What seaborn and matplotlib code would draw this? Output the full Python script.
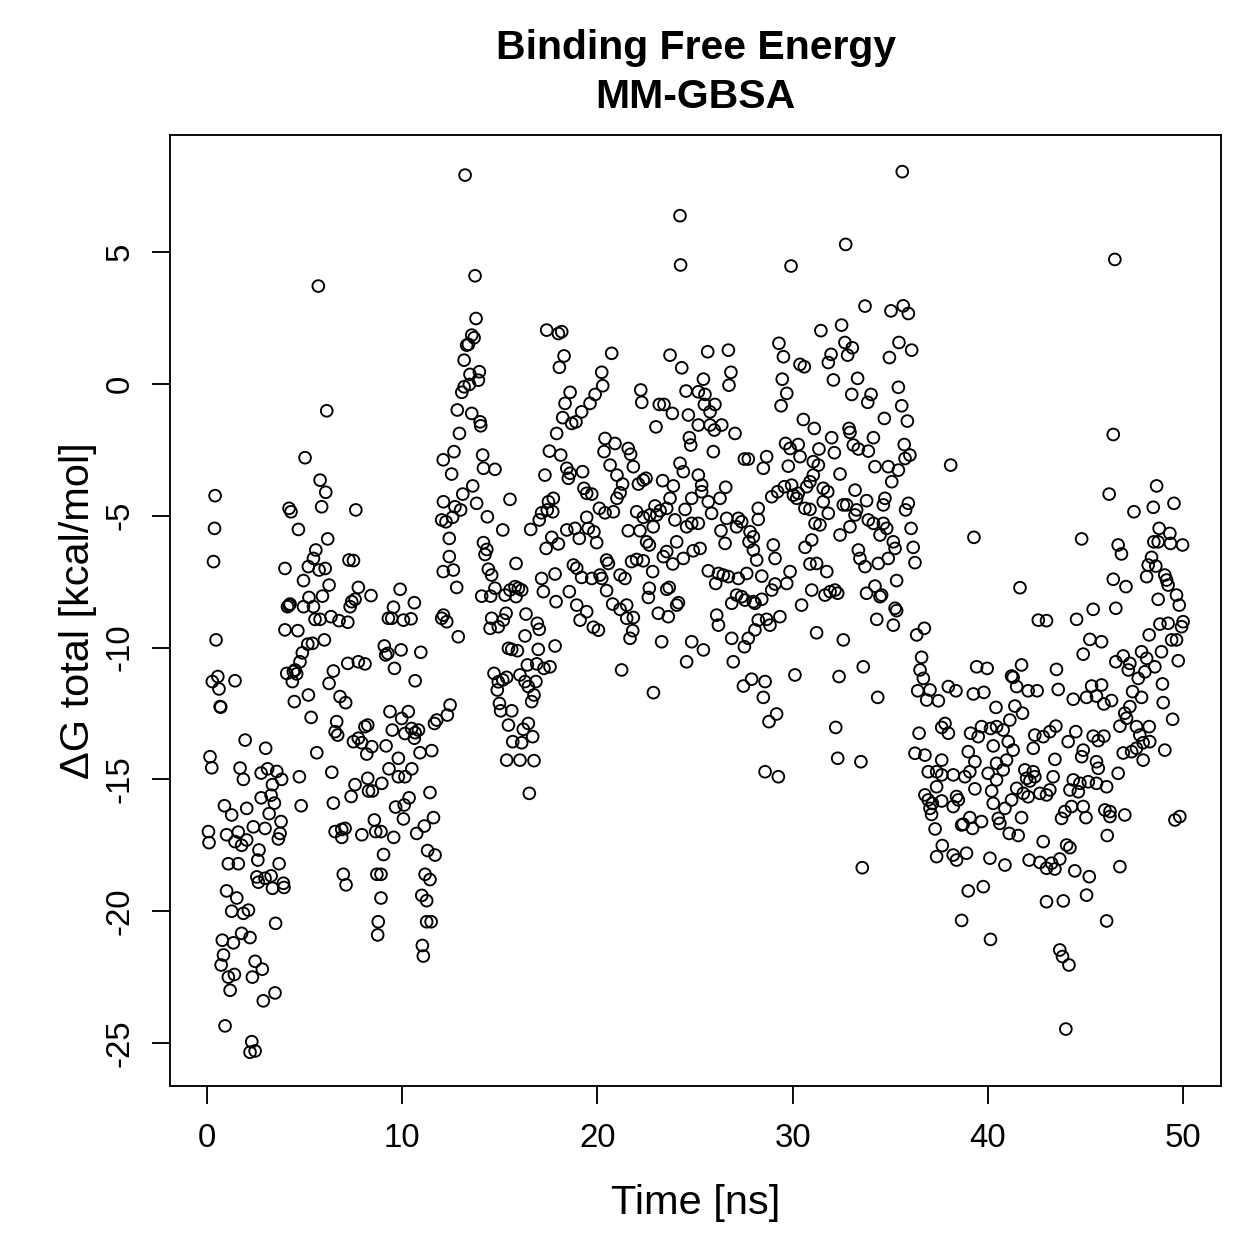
import pandas as pd
import matplotlib
matplotlib.use("Agg")
import matplotlib.pyplot as plt
import seaborn as sns

# (time [ns], dG total [kcal/mol]), one list per stretch
phase_0_12 = [
    (0.07, -16.98), (0.1, -17.4), (0.15, -14.14), (0.24, -14.56), (0.27, -11.29), (0.33, -6.74),
    (0.38, -5.48), (0.41, -4.24), (0.46, -9.71), (0.55, -11.1), (0.61, -11.57), (0.67, -12.24),
    (0.7, -12.26), (0.72, -22.04), (0.78, -21.1), (0.84, -21.66), (0.89, -16.0), (0.92, -24.35),
    (1.0, -17.1), (1.0, -19.23), (1.09, -18.2), (1.09, -22.5), (1.18, -23.0), (1.26, -16.35),
    (1.26, -20.0), (1.35, -21.2), (1.4, -22.4), (1.43, -17.36), (1.43, -11.26), (1.52, -19.5),
    (1.6, -17.0), (1.6, -18.2), (1.69, -14.57), (1.77, -17.5), (1.77, -20.84), (1.86, -15.0),
    (1.86, -20.08), (1.95, -13.51), (2.03, -16.1), (2.03, -17.3), (2.12, -19.96), (2.2, -21.0),
    (2.2, -25.35), (2.29, -24.95), (2.32, -22.5), (2.37, -16.8), (2.46, -21.9), (2.46, -25.3),
    (2.55, -18.7), (2.6, -18.06), (2.63, -18.9), (2.66, -17.68), (2.77, -14.76), (2.77, -15.7),
    (2.83, -22.2), (2.88, -23.4), (2.97, -16.86), (2.97, -18.75), (3.0, -13.82), (3.1, -14.6),
    (3.18, -16.3), (3.28, -15.6), (3.28, -18.66), (3.35, -15.2), (3.35, -19.13), (3.45, -15.9),
    (3.48, -23.1), (3.51, -20.46), (3.57, -14.7), (3.65, -17.26), (3.69, -18.2), (3.74, -17.05),
    (3.79, -16.6), (3.82, -15.0), (3.91, -18.94), (3.94, -19.1), (3.99, -7.0), (3.99, -9.33),
    (4.08, -10.98), (4.12, -8.45), (4.2, -4.72), (4.2, -8.4), (4.25, -8.35), (4.3, -4.85),
    (4.37, -11.29), (4.42, -10.91), (4.47, -12.05), (4.51, -10.85), (4.59, -11.0), (4.65, -9.36),
    (4.68, -5.52), (4.73, -14.9), (4.76, -10.54), (4.82, -16.0), (4.88, -10.2), (4.94, -7.46),
    (4.94, -8.45), (5.02, -2.8), (5.16, -9.87), (5.19, -6.93), (5.19, -11.8), (5.22, -8.1),
    (5.33, -12.65), (5.4, -9.84), (5.45, -6.62), (5.45, -8.45), (5.53, -8.93), (5.57, -6.3),
    (5.62, -13.99), (5.7, 3.71), (5.74, -7.06), (5.79, -3.65), (5.79, -8.93), (5.87, -4.66),
    (5.91, -8.05), (6.01, -9.71), (6.05, -7.0), (6.08, -4.11), (6.13, -1.02), (6.18, -5.88),
    (6.25, -7.63), (6.25, -11.36), (6.35, -8.83), (6.39, -14.73), (6.47, -10.89), (6.47, -15.9),
    (6.56, -13.19), (6.56, -16.98), (6.64, -12.81), (6.69, -13.32), (6.76, -8.98), (6.81, -11.86),
    (6.9, -16.9), (6.9, -17.2), (6.98, -18.6), (7.07, -16.86), (7.1, -12.09), (7.12, -19.0),
    (7.21, -9.04), (7.21, -10.6), (7.27, -6.68), (7.33, -8.45), (7.38, -15.65), (7.41, -8.26),
    (7.5, -6.7), (7.5, -13.57), (7.58, -8.17), (7.58, -15.2), (7.62, -4.78), (7.75, -7.72),
    (7.75, -10.54), (7.75, -13.44), (7.92, -13.61), (7.93, -17.1), (8.09, -10.62), (8.09, -13.0),
    (8.18, -14.04), (8.23, -12.94), (8.23, -14.96), (8.27, -15.44), (8.4, -8.03), (8.44, -13.76),
    (8.47, -15.44), (8.57, -16.54), (8.64, -16.98), (8.7, -18.6), (8.74, -20.9), (8.77, -20.4),
    (8.91, -16.98), (8.91, -18.6), (8.91, -19.5), (8.95, -15.15), (9.04, -17.85), (9.08, -9.94),
    (9.15, -10.28), (9.17, -13.73), (9.26, -10.22), (9.29, -8.89), (9.32, -14.6), (9.37, -12.43),
    (9.46, -8.89), (9.49, -13.13), (9.55, -8.47), (9.56, -17.2), (9.6, -10.79), (9.66, -16.05),
    (9.8, -14.2), (9.8, -14.9), (9.89, -7.79), (9.94, -10.09), (9.97, -12.69), (10.06, -8.96),
    (10.06, -16.5), (10.1, -15.97), (10.14, -13.26), (10.14, -14.9), (10.31, -12.43), (10.35, -15.7),
    (10.45, -8.91), (10.48, -13.07), (10.49, -14.6), (10.62, -8.3), (10.62, -13.44), (10.66, -11.26),
    (10.66, -13.23), (10.74, -17.05), (10.83, -13.13), (10.91, -13.99), (10.95, -10.18), (11.0, -19.4),
    (11.03, -21.3), (11.08, -21.7), (11.13, -16.77), (11.17, -18.6), (11.25, -19.6), (11.25, -20.4),
    (11.3, -17.7), (11.42, -15.5), (11.42, -18.8), (11.48, -20.4), (11.51, -13.91), (11.6, -16.45),
    (11.65, -12.88), (11.68, -17.87), (11.77, -12.75),
]

phase_12_25 = [
    (12.02, -5.16), (12.02, -8.89), (12.1, -2.88), (12.1, -7.12), (12.11, -4.47), (12.11, -8.77),
    (12.24, -5.23), (12.28, -9.02), (12.31, -12.56), (12.41, -5.86), (12.41, -6.55), (12.45, -12.18),
    (12.53, -3.42), (12.58, -5.06), (12.62, -7.06), (12.65, -2.57), (12.7, -4.66), (12.79, -7.72),
    (12.82, -0.99), (12.87, -9.59), (12.93, -1.88), (12.99, -4.78), (13.05, -0.32), (13.1, -4.18),
    (13.17, 0.9), (13.17, -0.11), (13.22, 7.92), (13.3, 1.47), (13.39, 1.5), (13.44, -0.02),
    (13.47, 0.36), (13.56, 1.85), (13.56, -1.12), (13.61, -3.87), (13.68, 1.75), (13.73, 4.1),
    (13.78, 2.48), (13.81, -4.53), (13.9, 0.14), (13.95, 0.46), (13.99, -1.44), (14.02, -1.59),
    (14.07, -8.05), (14.12, -2.7), (14.16, -3.2), (14.16, -6.02), (14.24, -6.47), (14.33, -6.28),
    (14.36, -5.04), (14.41, -7.03), (14.5, -9.27), (14.53, -8.05), (14.58, -7.25), (14.58, -8.89),
    (14.7, -10.98), (14.75, -3.24), (14.75, -7.75), (14.87, -11.61), (14.92, -9.21), (14.92, -11.3),
    (14.98, -12.12), (15.04, -12.4), (15.15, -5.54), (15.15, -11.23), (15.18, -8.96), (15.27, -8.01),
    (15.32, -8.7), (15.35, -11.13), (15.35, -14.27), (15.44, -10.03), (15.44, -12.94), (15.52, -4.38),
    (15.52, -7.82), (15.61, -10.07), (15.61, -12.4), (15.66, -13.57), (15.78, -7.69), (15.83, -6.81),
    (15.83, -8.07), (15.9, -10.12), (15.95, -7.75), (16.03, -11.04), (16.03, -14.27), (16.12, -7.82),
    (16.12, -13.61), (16.2, -13.1), (16.29, -9.56), (16.29, -11.29), (16.34, -8.73), (16.41, -10.66),
    (16.46, -11.48), (16.46, -12.88), (16.51, -15.53), (16.58, -5.52), (16.63, -12.05), (16.68, -13.38),
    (16.75, -11.8), (16.75, -14.29), (16.85, -11.29), (16.89, -10.62), (16.92, -9.08), (16.97, -10.07),
    (17.02, -5.16), (17.02, -9.31), (17.14, -4.89), (17.14, -7.38), (17.23, -7.88), (17.26, -10.79),
    (17.31, -3.46), (17.37, -6.24), (17.4, 2.04), (17.43, -4.78), (17.49, -4.47), (17.54, -2.55),
    (17.57, -10.73), (17.66, -5.82), (17.71, -4.85), (17.74, -4.34), (17.83, -7.21), (17.83, -9.94),
    (17.88, -8.26), (17.91, -1.88), (18.0, 1.91), (18.0, -6.07), (18.05, 0.63), (18.12, -2.7),
    (18.17, 1.98), (18.22, -1.28), (18.29, 1.06), (18.34, -0.74), (18.43, -3.2), (18.43, -5.54),
    (18.51, -3.58), (18.56, -7.88), (18.6, -0.32), (18.6, -3.39), (18.68, -1.5), (18.77, -6.87),
    (18.85, -5.48), (18.9, -1.44), (18.94, -6.99), (18.94, -8.39), (19.07, -5.86), (19.11, -8.96),
    (19.19, -1.06), (19.19, -7.34), (19.24, -3.33), (19.31, -3.96), (19.45, -4.15), (19.45, -5.06),
    (19.45, -8.64), (19.53, -5.48), (19.62, -0.74), (19.71, -4.18), (19.71, -7.38), (19.79, -9.23),
    (19.82, -5.61), (19.88, -0.4), (19.96, -6.02), (20.05, -9.34), (20.1, -4.72), (20.13, -7.25),
    (20.22, 0.44), (20.22, -7.38), (20.27, -0.07), (20.34, -2.57), (20.39, -2.07), (20.39, -4.89),
    (20.47, -6.68), (20.47, -7.84), (20.56, -6.81), (20.65, -3.08), (20.73, 1.16), (20.78, -8.35),
    (20.82, -4.85), (20.9, -2.26), (21.0, -3.46), (21.0, -4.34), (21.16, -4.13), (21.16, -7.25),
    (21.16, -8.55), (21.24, -10.85), (21.29, -3.8), (21.41, -7.38), (21.5, -8.39), (21.5, -8.89),
    (21.58, -2.45), (21.58, -5.57), (21.67, -9.65), (21.7, -2.67), (21.75, -6.74), (21.81, -9.36),
    (21.84, -3.14), (21.84, -8.86), (22.01, -4.85), (22.01, -6.66), (22.1, -3.8), (22.18, -5.57),
    (22.22, -0.23), (22.27, -0.7), (22.35, -3.65), (22.35, -5.06), (22.35, -6.71), (22.49, -3.58),
    (22.52, -5.99), (22.61, -8.1), (22.66, -6.11), (22.66, -7.75), (22.69, -4.97), (22.83, -7.12),
    (22.86, -5.42), (22.87, -11.71), (22.95, -4.63), (23.0, -1.63), (23.04, -4.97), (23.12, -8.7),
    (23.17, -0.78), (23.21, -4.81), (23.29, -9.78), (23.34, -3.67), (23.38, -6.55), (23.41, -0.78),
    (23.55, -4.72), (23.55, -6.36), (23.55, -7.79), (23.63, -8.83), (23.68, -7.72), (23.72, 1.09),
    (23.72, -4.34), (23.84, -1.12), (23.86, -6.83), (23.89, -3.87), (23.97, -5.16), (24.06, -5.99),
    (24.06, -8.39), (24.15, -8.3), (24.23, 6.38), (24.23, -3.01), (24.26, 4.51), (24.32, 0.61),
    (24.4, -3.33), (24.4, -6.62), (24.49, -4.76), (24.54, -0.27), (24.57, -5.42), (24.57, -10.54),
    (24.66, -1.18), (24.71, -2.04), (24.78, -2.32), (24.83, -4.34), (24.83, -5.29), (24.83, -9.78),
    (24.91, -6.33),
]

phase_25_38 = [
    (25.17, -0.3), (25.17, -1.56), (25.17, -3.46), (25.17, -5.29), (25.26, -6.24), (25.34, -3.84),
    (25.34, -4.09), (25.43, 0.18), (25.43, -10.09), (25.48, -0.78), (25.51, -0.4), (25.65, 1.22),
    (25.68, -4.47), (25.68, -7.09), (25.77, -1.06), (25.77, -1.56), (25.85, -4.91), (25.94, -2.57),
    (25.99, -1.75), (26.02, -0.78), (26.06, -7.57), (26.11, -8.77), (26.2, -7.19), (26.2, -9.15),
    (26.28, -4.34), (26.33, -5.57), (26.37, -1.56), (26.45, -7.25), (26.54, -6.05), (26.57, -3.92),
    (26.62, -5.1), (26.71, 1.28), (26.71, -7.31), (26.74, -0.05), (26.84, 0.44), (26.88, -8.32),
    (26.88, -9.65), (26.96, -10.54), (27.05, -1.88), (27.13, -5.42), (27.13, -8.01), (27.22, -5.1),
    (27.22, -7.38), (27.39, -5.23), (27.39, -8.07), (27.48, -11.46), (27.53, -2.85), (27.53, -9.97),
    (27.56, -8.2), (27.65, -7.19), (27.73, -2.85), (27.73, -9.65), (27.77, -5.99), (27.82, -5.61),
    (27.9, -11.2), (27.99, -5.8), (27.99, -6.3), (27.99, -8.26), (28.07, -8.32), (28.07, -9.33),
    (28.16, -6.68), (28.24, -4.72), (28.24, -5.14), (28.24, -8.96), (28.42, -7.29), (28.42, -8.17),
    (28.5, -3.2), (28.5, -11.89), (28.59, -11.29), (28.59, -14.71), (28.67, -2.76), (28.67, -8.93),
    (28.79, -12.81), (28.84, -9.15), (28.93, -4.28), (28.93, -7.82), (29.01, -6.11), (29.1, -6.62),
    (29.1, -7.59), (29.18, -12.52), (29.23, -4.09), (29.27, -14.9), (29.3, 1.54), (29.35, -8.83),
    (29.41, -0.83), (29.47, 0.18), (29.53, 1.03), (29.58, -3.9), (29.64, -2.26), (29.7, -0.36),
    (29.7, -7.57), (29.78, -3.12), (29.87, -2.45), (29.87, -7.12), (29.92, 4.47), (29.95, -3.84),
    (30.04, -4.22), (30.12, -11.04), (30.21, -4.34), (30.29, -2.3), (30.29, -4.15), (30.38, 0.74),
    (30.38, -2.76), (30.46, -8.39), (30.55, -1.35), (30.6, 0.65), (30.63, -4.72), (30.64, -6.2),
    (30.72, -3.9), (30.89, -3.71), (30.89, -4.76), (30.89, -6.83), (30.98, -5.92), (30.98, -7.82),
    (31.06, -2.95), (31.06, -3.46), (31.11, -1.69), (31.15, -5.29), (31.23, -6.81), (31.23, -9.44),
    (31.32, -3.08), (31.35, -2.47), (31.4, -5.35), (31.45, 2.02), (31.57, -3.96), (31.57, -4.47),
    (31.66, -8.01), (31.75, -7.12), (31.8, -4.09), (31.83, 0.81), (31.83, -4.91), (31.92, -7.88),
    (31.97, 1.12), (32.0, -2.04), (32.09, 0.15), (32.14, -2.61), (32.17, -7.82), (32.21, -13.03),
    (32.31, -7.94), (32.31, -14.2), (32.38, -11.1), (32.43, -3.42), (32.43, -5.73), (32.51, 2.23),
    (32.6, -4.59), (32.6, -9.71), (32.68, 1.57), (32.72, 5.29), (32.77, -4.59), (32.82, 1.09),
    (32.89, -1.69), (32.94, -1.84), (32.94, -5.42), (33.03, -0.4), (33.06, 1.37), (33.11, -2.32),
    (33.2, -4.03), (33.2, -4.97), (33.28, -4.78), (33.33, 0.21), (33.37, -2.47), (33.37, -6.3),
    (33.45, -6.62), (33.5, -14.33), (33.57, -18.35), (33.62, -10.73), (33.71, 2.95), (33.71, -6.93),
    (33.79, -4.43), (33.79, -7.94), (33.85, -0.7), (33.88, -2.55), (33.88, -5.16), (34.02, -0.4),
    (34.14, -2.04), (34.14, -5.29), (34.22, -3.14), (34.22, -7.67), (34.31, -8.93), (34.36, -11.89),
    (34.39, -6.81), (34.48, -5.73), (34.48, -8.07), (34.56, -8.01), (34.65, -4.59), (34.65, -5.29),
    (34.7, -1.31), (34.73, -4.34), (34.82, -5.48), (34.9, -3.14), (34.9, -6.62), (34.96, 1.0),
    (35.04, 2.77), (35.08, -3.71), (35.16, -5.99), (35.16, -9.15), (35.25, -6.24), (35.25, -8.51),
    (35.33, -7.46), (35.33, -8.6), (35.42, -0.13), (35.42, -3.27), (35.45, 1.57), (35.59, -0.83),
    (35.62, 8.05), (35.67, 2.96), (35.72, -2.3), (35.76, -2.83), (35.79, -4.78), (35.88, -1.41),
    (35.93, 2.67), (35.93, -4.53), (36.01, -2.7), (36.07, -5.48), (36.1, 1.28), (36.18, -6.2),
    (36.27, -6.78), (36.27, -14.01), (36.36, -9.52), (36.41, -11.64), (36.48, -13.25), (36.53, -10.85),
    (36.61, -10.37), (36.7, -11.17), (36.75, -9.27), (36.78, -14.08), (36.78, -15.59), (36.87, -11.99),
    (36.95, -14.71), (36.95, -15.78), (37.04, -11.61), (37.04, -16.1), (37.12, -16.33), (37.16, -15.91),
    (37.3, -16.88), (37.38, -14.71), (37.38, -15.28), (37.38, -17.93), (37.47, -12.02), (37.64, -13.03),
    (37.64, -14.27), (37.64, -14.83), (37.64, -15.82), (37.67, -17.51), (37.81, -12.88), (37.98, -11.48),
    (37.98, -13.25),
]

phase_38_50 = [
    (38.1, -3.08), (38.23, -14.83), (38.23, -16.03), (38.23, -17.87), (38.37, -11.64), (38.4, -15.65),
    (38.4, -18.06), (38.49, -15.78), (38.66, -16.73), (38.66, -20.35), (38.74, -16.7), (38.83, -14.9),
    (38.91, -17.8), (39.0, -13.95), (39.0, -19.23), (39.08, -14.71), (39.08, -16.45), (39.12, -13.25),
    (39.22, -16.86), (39.26, -11.76), (39.29, -5.82), (39.34, -14.33), (39.34, -15.36), (39.43, -10.73),
    (39.51, -13.38), (39.68, -13.0), (39.68, -16.6), (39.77, -19.07), (39.8, -11.7), (39.97, -10.79),
    (40.02, -14.77), (40.11, -17.99), (40.14, -13.07), (40.14, -21.07), (40.2, -15.44), (40.28, -13.73),
    (40.28, -15.91), (40.42, -12.27), (40.45, -13.0), (40.45, -14.39), (40.45, -15.02), (40.54, -16.48),
    (40.62, -16.67), (40.79, -13.13), (40.79, -14.64), (40.88, -16.1), (40.88, -18.25), (40.96, -14.27),
    (41.05, -13.57), (41.1, -17.05), (41.13, -12.75), (41.22, -11.08), (41.22, -15.78), (41.3, -11.13),
    (41.3, -13.89), (41.39, -12.22), (41.48, -11.48), (41.48, -15.34), (41.56, -17.13), (41.65, -7.73),
    (41.73, -10.66), (41.73, -16.45), (41.78, -12.49), (41.82, -15.53), (41.9, -14.64), (41.99, -14.96),
    (42.07, -11.64), (42.07, -15.66), (42.12, -18.06), (42.16, -15.06), (42.33, -13.82), (42.33, -14.71),
    (42.41, -13.32), (42.41, -14.9), (42.53, -11.64), (42.59, -8.96), (42.67, -15.53), (42.67, -18.15),
    (42.84, -13.38), (42.84, -17.36), (43.01, -8.98), (43.01, -15.59), (43.01, -18.37), (43.01, -19.64),
    (43.18, -13.19), (43.18, -15.4), (43.27, -18.18), (43.35, -14.9), (43.44, -14.24), (43.44, -18.4),
    (43.49, -12.98), (43.52, -10.83), (43.61, -11.59), (43.69, -18.02), (43.69, -21.47), (43.78, -16.48),
    (43.83, -21.72), (43.87, -19.61), (43.95, -16.22), (44.0, -24.47), (44.04, -17.49), (44.12, -13.57),
    (44.16, -22.04), (44.21, -15.4), (44.21, -17.59), (44.29, -16.03), (44.38, -11.96), (44.38, -15.02),
    (44.46, -18.47), (44.51, -13.19), (44.55, -8.93), (44.64, -15.47), (44.72, -15.15), (44.81, -5.88),
    (44.81, -14.14), (44.89, -10.25), (44.89, -13.89), (44.89, -16.03), (45.03, -16.45), (45.06, -11.89),
    (45.06, -19.39), (45.15, -15.09), (45.2, -18.69), (45.23, -9.69), (45.32, -11.46), (45.4, -8.55),
    (45.4, -13.36), (45.57, -11.84), (45.57, -14.33), (45.57, -15.15), (45.66, -13.53), (45.66, -14.58),
    (45.83, -9.78), (45.83, -11.42), (45.95, -12.14), (45.95, -13.36), (46.0, -16.16), (46.09, -15.28),
    (46.09, -20.37), (46.12, -17.13), (46.22, -4.18), (46.26, -16.22), (46.26, -16.41), (46.34, -12.01),
    (46.43, -1.92), (46.43, -7.41), (46.51, 4.72), (46.56, -8.51), (46.56, -10.54), (46.68, -6.11),
    (46.68, -14.77), (46.77, -12.98), (46.77, -18.31), (46.85, -6.45), (46.94, -10.32), (46.94, -14.0),
    (47.02, -12.49), (47.02, -16.35), (47.08, -7.69), (47.11, -12.68), (47.2, -10.85), (47.28, -10.6),
    (47.28, -12.24), (47.37, -13.95), (47.42, -11.67), (47.49, -4.85), (47.62, -13.0), (47.62, -13.82),
    (47.71, -11.17), (47.79, -13.32), (47.88, -10.16), (47.88, -11.89), (47.96, -13.61), (47.96, -14.27),
    (48.05, -10.92), (48.14, -7.31), (48.14, -10.41), (48.22, -6.87), (48.27, -9.52), (48.27, -13.0),
    (48.3, -13.57), (48.39, -6.58), (48.48, -4.68), (48.51, -5.99), (48.56, -10.73), (48.61, -6.91),
    (48.65, -3.87), (48.73, -5.99), (48.73, -8.17), (48.78, -5.48), (48.82, -9.11), (48.9, -10.16),
    (48.95, -11.38), (48.99, -12.09), (49.07, -7.25), (49.07, -13.89), (49.16, -7.44), (49.24, -7.63),
    (49.24, -9.08), (49.33, -5.67), (49.36, -6.05), (49.42, -9.71), (49.47, -12.72), (49.54, -4.53),
    (49.59, -16.54), (49.67, -8.01), (49.67, -9.71), (49.76, -10.5), (49.81, -8.39), (49.84, -16.41),
    (49.93, -9.21), (49.98, -6.11), (50.01, -9.02),
]

trace = pd.DataFrame(phase_0_12 + phase_12_25 + phase_25_38 + phase_38_50,
                     columns=["Time [ns]", "dG"])

sns.set_style("ticks")
plt.rcParams["font.family"] = ["Liberation Sans", "DejaVu Sans"]
plt.rcParams["axes.unicode_minus"] = False
plt.rcParams["text.color"] = "black"
plt.rcParams["axes.labelcolor"] = "black"
plt.rcParams["xtick.color"] = "black"
plt.rcParams["ytick.color"] = "black"

W = 1259
fig = plt.figure(figsize=(W / 180, W / 180), dpi=180)
ax = fig.add_axes([170 / W, 1 - 1086 / W, 1051 / W, 951 / W])

sns.scatterplot(data=trace, x="Time [ns]", y="dG", ax=ax, marker="o", s=22,
                facecolors="none", edgecolor="black", linewidth=0.75)

ax.set_xlim(-1.9, 51.95)
ax.set_ylim(-26.63, 9.44)
ax.set_xticks(range(0, 51, 10))
ax.set_yticks(range(-25, 6, 5))
ax.tick_params(direction="out", length=7.2, width=0.75, colors="black", labelsize=13.2)
ax.tick_params(axis="x", pad=7.5)
ax.tick_params(axis="y", pad=6.5, labelrotation=90)
for lbl in ax.get_yticklabels():
    lbl.set_va("center")
for sp in ax.spines.values():
    sp.set_linewidth(0.75)
    sp.set_color("black")

ax.set_xlabel("Time [ns]", fontsize=16.6, labelpad=12)
ax.set_ylabel("ΔG total [kcal/mol]", fontsize=16.6, labelpad=3)

fig.text(695.5 / W, 1 - 59 / W, "Binding Free Energy", ha="center", va="baseline",
         fontsize=16.4, fontweight="bold")
fig.text(695.5 / W, 1 - 108 / W, "MM-GBSA", ha="center", va="baseline",
         fontsize=16.4, fontweight="bold")

fig.savefig("out.png", dpi=180)
